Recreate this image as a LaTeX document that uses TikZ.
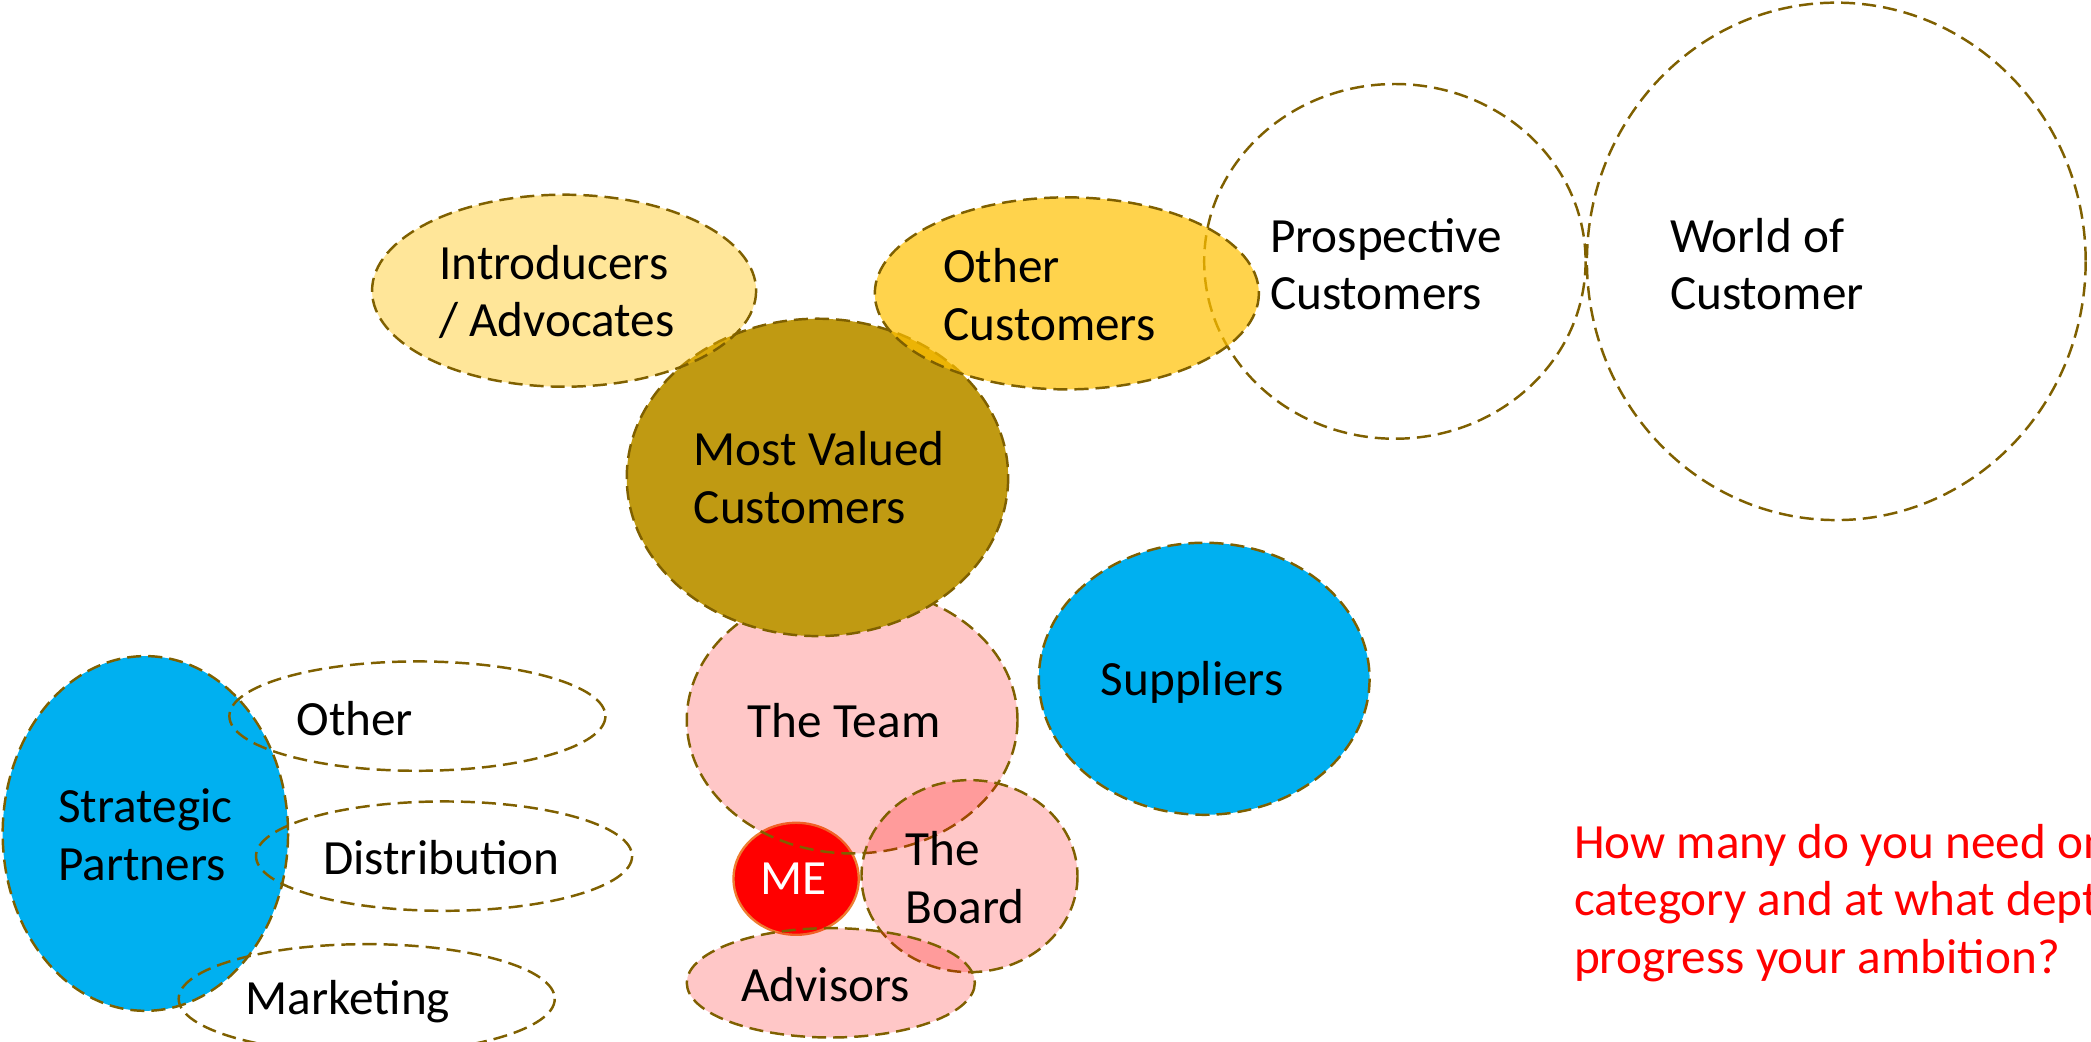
\documentclass[tikz,border=0pt]{standalone}
\usepackage{fontspec}
\setmainfont{Carlito}
\usepackage{xcolor}

\definecolor{rim}{HTML}{7F6000}
\definecolor{gold}{HTML}{FFC000}
\definecolor{valued}{RGB}{192,154,18}
\definecolor{sky}{HTML}{00B0F0}
\definecolor{meline}{HTML}{ED7D31}

\tikzset{
	bubble/.style={draw=rim, line width=1.05pt, dash pattern=on 6pt off 3pt},
	lbl/.style={font=\fontsize{21}{24.5}\selectfont, inner sep=0pt, align=left},
}

\begin{document}
\begin{tikzpicture}[x=0.2mm, y=-0.2mm]
	\useasboundingbox (0,0) rectangle (1568,781);
	\clip (0,0) rectangle (1568,781);
	% partners on the left
	\draw[bubble, fill=sky] (109,625) ellipse [x radius=107, y radius=133];
	\draw[bubble] (313,537) ellipse [x radius=141, y radius=41];
	\draw[bubble] (333,642) ellipse [x radius=141, y radius=41];
	\draw[bubble] (275,749) ellipse [x radius=141, y radius=41];
	\draw[bubble, fill=sky] (903,509) ellipse [x radius=124, y radius=102];
	% me and the people round me
	\draw[draw=meline, line width=1pt, fill=red] (597,659) ellipse [x radius=47, y radius=42];
	\draw[bubble, fill=red, fill opacity=0.22] (639,540) ellipse [x radius=124, y radius=100];
	\draw[bubble, fill=red, fill opacity=0.22] (727,657) ellipse [x radius=81, y radius=72];
	\draw[bubble, fill=red, fill opacity=0.22] (623,737) ellipse [x radius=108, y radius=41];
	% customer rings
	\draw[bubble] (1046,196) ellipse [x radius=143, y radius=133];
	\draw[bubble] (1377,196) ellipse [x radius=187, y radius=194];
	\draw[bubble, fill=valued] (613,358) ellipse [x radius=143, y radius=119];
	\draw[bubble, fill=gold, fill opacity=0.4] (423,218) ellipse [x radius=144, y radius=72];
	\draw[bubble, fill=gold, fill opacity=0.7] (800,220) ellipse [x radius=144, y radius=72];

	\node[lbl, anchor=west] (introducers) at (329,219) {Introducers\\/ Advocates};
	\node[lbl, anchor=west] (othercust) at (707,221) {Other\\Customers};
	\node[lbl, anchor=west] (prospective) at (952,198) {Prospective\\Customers};
	\node[lbl, anchor=west] (world) at (1252,198) {World of\\Customer};
	\node[lbl, anchor=west] (valued) at (520,358) {Most Valued\\Customers};
	\node[lbl] (team) at (633,540) {The Team};
	\node[lbl] (suppliers) at (894,512) {Suppliers};
	\node[lbl] (partners) at (109,626) {Strategic\\Partners};
	\node[lbl, anchor=west] (other) at (222,539) {Other};
	\node[lbl, anchor=west] (distribution) at (242,643) {Distribution};
	\node[lbl, anchor=west] (marketing) at (184,751) {Marketing};
	\node[lbl, text=white] (me) at (595,659) {ME};
	\node[lbl, anchor=west] (board) at (679,658) {The\\Board};
	\node[lbl] (advisors) at (619,738) {Advisors};
	\node[lbl, anchor=west, text=red] (question) at (1180,677)
		{How many do you need on each\\category and at what depth to\\progress your ambition?};
\end{tikzpicture}
\end{document}
